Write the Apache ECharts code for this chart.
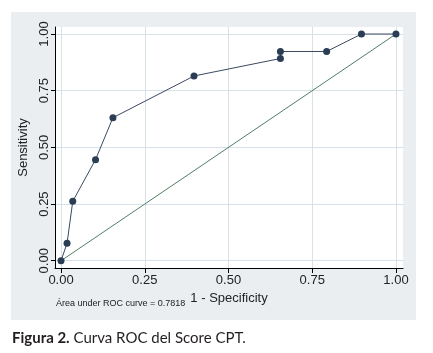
<!DOCTYPE html>
<html>
<head>
<meta charset="utf-8">
<script src="https://cdn.jsdelivr.net/npm/echarts@6/dist/echarts.min.js"></script>
<style>
  html, body { margin: 0; padding: 0; background: #fff; }
  #chart { width: 433px; height: 353px; }
</style>
</head>
<body>
<div id="chart"></div>
<script>
// 1 - specificity / sensitivity
const fpr = [0, 0.018, 0.035, 0.103, 0.155, 0.397, 0.655, 0.655, 0.793, 0.897, 1]
const tpr = [0, 0.077, 0.262, 0.446, 0.631, 0.815, 0.892, 0.923, 0.923, 1, 1]
const refLine = [[0, 0], [1, 1]]
const ticks = [0, 0.25, 0.5, 0.75, 1]
const aucText = 'Área under ROC curve = 0.7818'

const narrow = '"Liberation Sans Narrow", "Arial Narrow", "Liberation Sans", sans-serif'
const capFont = 'Lato, "Open Sans", sans-serif'

let chart = echarts.init(document.getElementById('chart'))
chart.setOption({
  animation: false,
  textStyle: { fontFamily: narrow },
  graphic: [
    // grey panel
    {
      type: 'rect',
      z: -10,
      shape: { x: 11, y: 12, width: 405, height: 308 },
      style: { fill: '#eaeef0' },
      silent: true
    },
    // white plot area
    {
      type: 'rect',
      z: -9,
      shape: { x: 55, y: 27, width: 348, height: 241 },
      style: { fill: '#ffffff' },
      silent: true
    },
    {
      type: 'text',
      left: 56,
      top: 299,
      style: { text: aucText, fontSize: 9, fontFamily: narrow, fill: '#222' }
    },
    {
      type: 'text',
      left: 12,
      top: 331,
      style: {
        text: '{b|Figura 2.} Curva ROC del Score CPT.',
        fontSize: 15,
        fontFamily: capFont,
        fill: '#231f20',
        rich: {
          b: { fontWeight: 'bold', fontSize: 15, fontFamily: capFont, fill: '#231f20' }
        }
      }
    }
  ],
  grid: {
    left: 55,
    right: 30,
    top: 27,
    bottom: 85
  },
  xAxis: {
    type: 'value',
    min: -0.018,
    max: 1.021,
    name: '1 - Specificity',
    nameLocation: 'middle',
    nameGap: 22,
    nameTextStyle: { fontSize: 13, color: '#222' },
    axisLine: { show: true, onZero: false, lineStyle: { color: '#000', width: 1 } },
    axisTick: { show: true, length: 5, customValues: ticks, lineStyle: { color: '#000' } },
    axisLabel: {
      customValues: ticks,
      fontSize: 13,
      color: '#222',
      margin: 6,
      formatter: v => v.toFixed(2)
    },
    splitLine: { show: true, lineStyle: { color: '#d6e1e8', width: 1 } }
  },
  yAxis: {
    type: 'value',
    min: -0.032,
    max: 1.031,
    name: 'Sensitivity',
    nameLocation: 'middle',
    nameGap: 21,
    nameTextStyle: { fontSize: 13, color: '#222' },
    axisLine: { show: true, onZero: false, lineStyle: { color: '#000', width: 1 } },
    axisTick: { show: true, length: 4, customValues: ticks, lineStyle: { color: '#000' } },
    axisLabel: {
      customValues: ticks,
      rotate: 90,
      fontSize: 13,
      color: '#222',
      margin: 4,
      formatter: v => v.toFixed(2)
    },
    splitLine: { show: true, lineStyle: { color: '#d6e1e8', width: 1 } }
  },
  series: [
    {
      name: 'reference',
      type: 'line',
      data: refLine,
      showSymbol: false,
      symbol: 'none',
      lineStyle: { color: '#4f7f66', width: 1 },
      z: 2
    },
    {
      name: 'ROC',
      type: 'line',
      data: fpr.map((x, i) => [x, tpr[i]]),
      symbol: 'circle',
      symbolSize: 7,
      itemStyle: { color: '#2b3d55' },
      lineStyle: { color: '#3a4a60', width: 1 },
      z: 3
    }
  ]
})
</script>
</body>
</html>
